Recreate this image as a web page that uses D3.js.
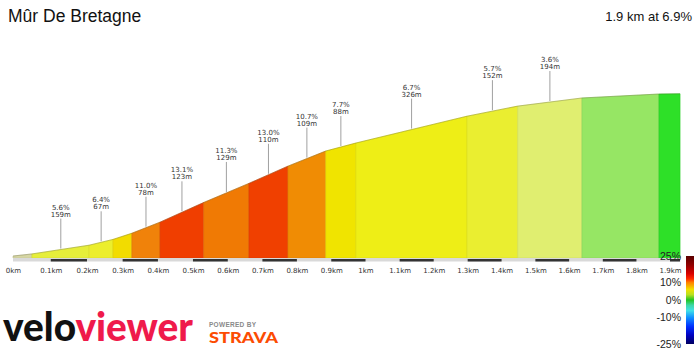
<!DOCTYPE html>
<html>
<head>
<meta charset="utf-8">
<script src="https://cdn.jsdelivr.net/npm/d3@7"></script>
<style>
  html, body { margin: 0; padding: 0; background: #fff; }
  svg { display: block; }
</style>
</head>
<body>
<svg id="chart" width="700" height="350"></svg>
<script>
// ---------- DATA ----------
const title = "Mûr De Bretagne";
const summary = "1.9 km at 6.9%";

// segment boundaries (distance in km) and elevation (m) at each boundary
const boundaryKm = [0, 0.049, 0.206, 0.273, 0.326, 0.406, 0.531, 0.661, 0.774, 0.884, 0.972, 1.298, 1.448, 1.638, 1.867, 1.930];
const boundaryElev = [160, 161.7, 168.8, 173.5, 178.5, 187.5, 203.5, 219, 233, 245.3, 251.8, 273.6, 281.8, 288.4, 291.6, 291.8];

// per segment
const segColors = ["#d6d6a4", "#e6ee3a", "#ecee2c", "#f2dc00", "#f0820a", "#f03e00", "#f07a04", "#f04000", "#f08c04", "#f0e400", "#eeee16", "#eaee30", "#e0ee70", "#96e664", "#2ee028"];
const segGrade = [null, "5.6%", "6.4%", null, "11.0%", "13.1%", "11.3%", "13.0%", "10.7%", "7.7%", "6.7%", "5.7%", "3.6%", null, null];
const segLength = [null, "159m", "67m", null, "78m", "123m", "129m", "110m", "109m", "88m", "326m", "152m", "194m", null, null];

// axis ticks
const tickKm = [0, 0.1, 0.2, 0.3, 0.4, 0.5, 0.6, 0.7, 0.8, 0.9, 1.0, 1.1, 1.2, 1.3, 1.4, 1.5, 1.6, 1.7, 1.8, 1.9];
const tickLabels = ["0km", "0.1km", "0.2km", "0.3km", "0.4km", "0.5km", "0.6km", "0.7km", "0.8km", "0.9km", "1km", "1.1km", "1.2km", "1.3km", "1.4km", "1.5km", "1.6km", "1.7km", "1.8km", "1.9km"];

// gradient legend
const legendGrades = [25, 20, 15, 12, 10, 6, 3, 0, -3, -6, -10, -15, -20, -25];
const legendColors = ["#5a0000", "#900000", "#d80000", "#ff2a00", "#ff8000", "#f2e000", "#b8e020", "#22c422", "#3cd8a8", "#40e0e8", "#1090ff", "#0030ff", "#0000c0", "#000060"];
const legendTicks = [25, 10, 0, -10, -25];
const legendTickLabels = ["25%", "10%", "0%", "-10%", "-25%"];

// ---------- SCALES ----------
const svg = d3.select("#chart");
const x = d3.scalePow().exponent(0.97).domain([0, 1.9]).range([13, 670]);
const baseY = 258;
const y = d3.scaleLinear().domain([158.4, 290]).range([baseY, 96]);

// ---------- PROFILE ----------
const segments = segColors.map((c, i) => ({
  i, color: c,
  pts: [{d: boundaryKm[i], e: boundaryElev[i]}, {d: boundaryKm[i + 1], e: boundaryElev[i + 1]}],
  grade: segGrade[i], len: segLength[i]
}));

const area = d3.area().x(p => x(p.d)).y0(baseY).y1(p => y(p.e));
svg.append("g").selectAll("path").data(segments).join("path")
  .attr("d", s => area(s.pts))
  .attr("fill", s => s.color)
  .attr("stroke", s => d3.color(s.color).darker(0.25))
  .attr("stroke-width", 0.6);

// top outline
const allPts = boundaryKm.map((d, i) => ({d, e: boundaryElev[i]}));
svg.append("path")
  .attr("d", d3.line().x(p => x(p.d)).y(p => y(p.e))(allPts))
  .attr("fill", "none").attr("stroke", "rgba(90,90,40,0.35)").attr("stroke-width", 0.8);

// ---------- AXIS STRIP ----------
const totalKm = boundaryKm[boundaryKm.length - 1];
svg.append("rect").attr("x", x(0)).attr("y", baseY).attr("width", x(totalKm) - x(0)).attr("height", 3.5).attr("fill", "#d9d9d9");
const darkBars = tickKm.filter((t, i) => i % 2 === 1);
svg.append("g").selectAll("rect").data(darkBars).join("rect")
  .attr("x", d => x(d))
  .attr("y", baseY + 1)
  .attr("width", d => x(Math.min(d + 0.1, totalKm)) - x(d))
  .attr("height", 2.5)
  .attr("fill", "#333");

const axis = d3.axisBottom(x).tickValues(tickKm).tickFormat((d, i) => tickLabels[i]).tickSize(0).tickPadding(6);
const gAxis = svg.append("g").attr("transform", `translate(0,${baseY + 4})`).call(axis);
gAxis.select(".domain").remove();
gAxis.selectAll("text").attr("font-family", "DejaVu Sans").attr("font-size", 7).attr("fill", "#333");

// ---------- CALLOUTS ----------
const labeled = segments.filter(s => s.grade);
const callouts = svg.append("g").selectAll("g").data(labeled).join("g")
  .attr("transform", s => {
    const dm = (s.pts[0].d + s.pts[1].d) / 2;
    const em = (s.pts[0].e + s.pts[1].e) / 2;
    return `translate(${x(dm)},${y(em)})`;
  });
callouts.append("line").attr("x1", 0).attr("x2", 0).attr("y1", -1).attr("y2", -31)
  .attr("stroke", "#a0a0a0").attr("stroke-width", 1);
callouts.append("text").attr("y", -40).attr("text-anchor", "middle")
  .attr("font-family", "DejaVu Sans").attr("font-size", 7).attr("fill", "#333")
  .text(s => s.grade);
callouts.append("text").attr("y", -33).attr("text-anchor", "middle")
  .attr("font-family", "DejaVu Sans").attr("font-size", 7).attr("fill", "#333")
  .text(s => s.len);

// ---------- TITLES ----------
svg.append("text").attr("x", 8).attr("y", 21.5)
  .attr("font-family", "Liberation Sans, Arial, sans-serif").attr("font-size", 17.5).attr("fill", "#111")
  .text(title);
svg.append("text").attr("x", 692).attr("y", 21).attr("text-anchor", "end")
  .attr("font-family", "Liberation Sans, Arial, sans-serif").attr("font-size", 13).attr("fill", "#111")
  .text(summary);

// ---------- LEGEND ----------
const ly = d3.scaleLinear().domain([25, -25]).range([256, 344]);
const defs = svg.append("defs");
const grad = defs.append("linearGradient").attr("id", "gradeGrad").attr("x1", 0).attr("x2", 0).attr("y1", 0).attr("y2", 1);
grad.selectAll("stop").data(legendGrades).join("stop")
  .attr("offset", g => (25 - g) / 50)
  .attr("stop-color", (g, i) => legendColors[i]);
svg.append("rect").attr("x", 686).attr("y", ly(25)).attr("width", 8).attr("height", ly(-25) - ly(25)).attr("fill", "url(#gradeGrad)");
svg.append("g").selectAll("text").data(legendTicks).join("text")
  .attr("x", 681).attr("y", g => ly(g) + 3.5).attr("text-anchor", "end")
  .attr("font-family", "Liberation Sans, Arial, sans-serif").attr("font-size", 10.5).attr("fill", "#222")
  .text((g, i) => legendTickLabels[i]);

// ---------- LOGO ----------
const logo = svg.append("text").attr("x", 3).attr("y", 341)
  .attr("font-family", "Lato").attr("font-weight", 900).attr("font-size", 40)
  .attr("textLength", 190).attr("lengthAdjust", "spacingAndGlyphs");
logo.append("tspan").attr("fill", "#111").text("velo");
logo.append("tspan").attr("fill", "#ef1a4b").text("viewer");
svg.append("text").attr("x", 209).attr("y", 326.5)
  .attr("font-family", "Liberation Sans, Arial, sans-serif").attr("font-weight", 700).attr("font-size", 6.5).attr("fill", "#8a8a8a")
  .attr("textLength", 47).attr("lengthAdjust", "spacing").text("POWERED BY");
svg.append("text").attr("x", 209).attr("y", 343)
  .attr("font-family", "Lato").attr("font-weight", 900).attr("font-size", 15).attr("fill", "#fc4c02")
  .attr("textLength", 69).attr("lengthAdjust", "spacingAndGlyphs").text("STRAVA");
</script>
</body>
</html>
